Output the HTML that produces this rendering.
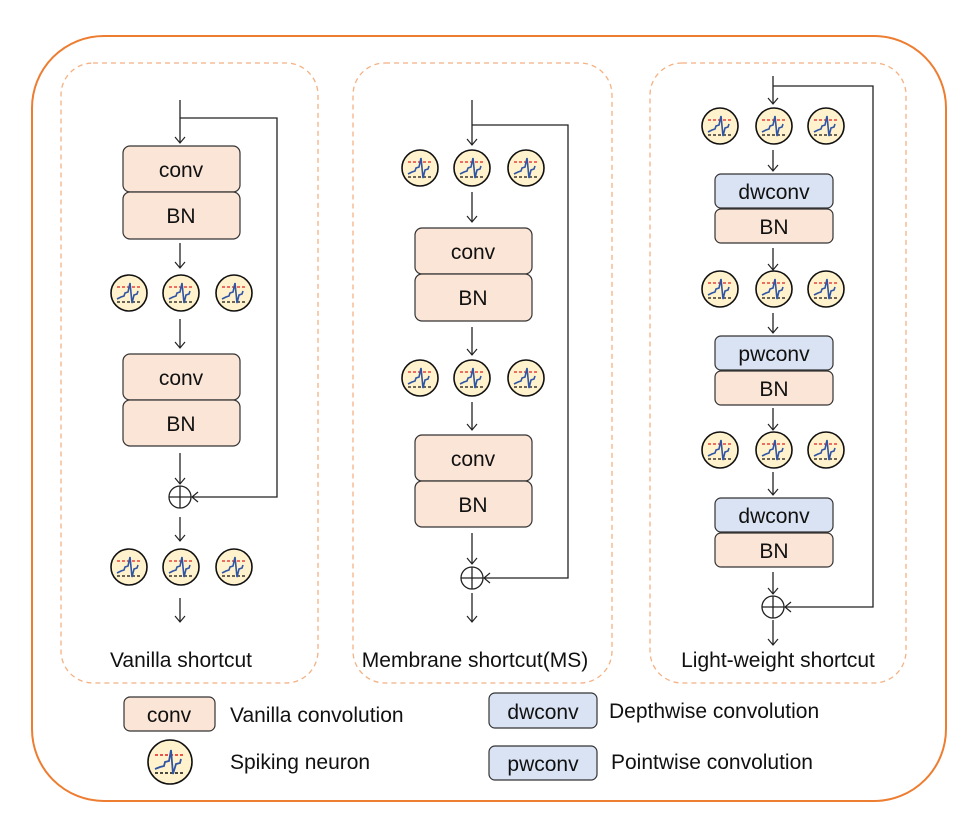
<!DOCTYPE html>
<html><head><meta charset="utf-8"><style>
html,body{margin:0;padding:0;background:#fff}
svg{display:block}
text{font-family:"Liberation Sans",sans-serif;fill:#111}
</style></head><body>
<svg width="972" height="837" viewBox="0 0 972 837" xmlns="http://www.w3.org/2000/svg">
<defs>
<marker id="ar" markerWidth="12" markerHeight="12" refX="10" refY="6" orient="auto" markerUnits="userSpaceOnUse">
<path d="M4,1 L10,6 L4,11" fill="none" stroke="#222" stroke-width="1.2"/>
</marker>
<g id="nr">
<circle cx="0" cy="0" r="18" fill="#FFF2CC" stroke="#111" stroke-width="1.6"/>
<line x1="-12" y1="-6" x2="12" y2="-6" stroke="#E02020" stroke-width="1.3" stroke-dasharray="3,2"/>
<line x1="-12" y1="9" x2="12" y2="9" stroke="#111" stroke-width="1.3" stroke-dasharray="3,2"/>
<path d="M-12,6 L-8,4 L-5,3 L-4,0 L-1,-1 L1,-10 L3,10 L5,2 L8,1 L9,-2" fill="none" stroke="#2F55A4" stroke-width="1.6"/>
</g>
<g id="nrL">
<circle cx="0" cy="0" r="22" fill="#FFF2CC" stroke="#111" stroke-width="1.6"/>
<line x1="-15" y1="-7" x2="15" y2="-7" stroke="#E02020" stroke-width="1.4" stroke-dasharray="3,2"/>
<line x1="-15" y1="11" x2="15" y2="11" stroke="#111" stroke-width="1.4" stroke-dasharray="3,2"/>
<path d="M-15,7 L-10,5 L-6,4 L-5,0 L-1,-1 L1,-12 L3,12 L6,2 L10,1 L11,-3" fill="none" stroke="#2F55A4" stroke-width="1.8"/>
</g>
<g id="plus">
<circle cx="0" cy="0" r="11" fill="#fff" stroke="#222" stroke-width="1.3"/>
<line x1="-11" y1="0" x2="11" y2="0" stroke="#222" stroke-width="1.3"/>
<line x1="0" y1="-11" x2="0" y2="11" stroke="#222" stroke-width="1.3"/>
</g>
</defs>

<rect x="32" y="36" width="914" height="765" rx="72" fill="none" stroke="#ED7D31" stroke-width="2"/>
<g fill="none" stroke="#F4B183" stroke-width="1.3" stroke-dasharray="5,4">
<rect x="61" y="63" width="257" height="620" rx="32"/>
<rect x="353" y="63" width="259" height="620" rx="32"/>
<rect x="650" y="63" width="256" height="620" rx="32"/>
</g>

<g stroke="#222" stroke-width="1.3" fill="none">
<line x1="180" y1="100" x2="180" y2="143" marker-end="url(#ar)"/>
<polyline points="180,118 277,118 277,497 192,497" marker-end="url(#ar)"/>
<line x1="180" y1="243" x2="180" y2="268" marker-end="url(#ar)"/>
<line x1="180" y1="319" x2="180" y2="348" marker-end="url(#ar)"/>
<line x1="180" y1="453" x2="180" y2="484" marker-end="url(#ar)"/>
<line x1="180" y1="517" x2="180" y2="541" marker-end="url(#ar)"/>
<line x1="180" y1="598" x2="180" y2="622" marker-end="url(#ar)"/>
<line x1="472" y1="100" x2="472" y2="145" marker-end="url(#ar)"/>
<polyline points="472,125 568,125 568,578 484,578" marker-end="url(#ar)"/>
<line x1="472" y1="192" x2="472" y2="222" marker-end="url(#ar)"/>
<line x1="472" y1="327" x2="472" y2="355" marker-end="url(#ar)"/>
<line x1="472" y1="402" x2="472" y2="430" marker-end="url(#ar)"/>
<line x1="472" y1="533" x2="472" y2="564" marker-end="url(#ar)"/>
<line x1="472" y1="593" x2="472" y2="622" marker-end="url(#ar)"/>
<line x1="773" y1="76" x2="773" y2="104" marker-end="url(#ar)"/>
<polyline points="773,86 873,86 873,607 785,607" marker-end="url(#ar)"/>
<line x1="773" y1="150" x2="773" y2="171" marker-end="url(#ar)"/>
<line x1="773" y1="248" x2="773" y2="270" marker-end="url(#ar)"/>
<line x1="773" y1="313" x2="773" y2="333" marker-end="url(#ar)"/>
<line x1="773" y1="408" x2="773" y2="430" marker-end="url(#ar)"/>
<line x1="773" y1="472" x2="773" y2="495" marker-end="url(#ar)"/>
<line x1="773" y1="572" x2="773" y2="594" marker-end="url(#ar)"/>
<line x1="773" y1="620" x2="773" y2="645" marker-end="url(#ar)"/>
</g>

<g stroke="#333" stroke-width="1.2">
<rect x="123" y="146" width="117" height="46" rx="7" fill="#FBE5D6"/>
<rect x="123" y="192" width="117" height="47" rx="7" fill="#FBE5D6"/>
<rect x="123" y="354" width="117" height="46" rx="7" fill="#FBE5D6"/>
<rect x="123" y="400" width="117" height="46" rx="7" fill="#FBE5D6"/>
<rect x="415" y="228" width="117" height="46" rx="7" fill="#FBE5D6"/>
<rect x="415" y="274" width="117" height="47" rx="7" fill="#FBE5D6"/>
<rect x="415" y="435" width="117" height="46" rx="7" fill="#FBE5D6"/>
<rect x="415" y="481" width="117" height="46" rx="7" fill="#FBE5D6"/>
<rect x="715" y="174" width="118" height="34" rx="6" fill="#DAE3F3"/>
<rect x="715" y="209" width="118" height="34" rx="6" fill="#FBE5D6"/>
<rect x="715" y="336" width="118" height="34" rx="6" fill="#DAE3F3"/>
<rect x="715" y="371" width="118" height="34" rx="6" fill="#FBE5D6"/>
<rect x="715" y="498" width="118" height="34" rx="6" fill="#DAE3F3"/>
<rect x="715" y="533" width="118" height="34" rx="6" fill="#FBE5D6"/>
<rect x="124" y="697" width="91" height="34" rx="6" fill="#FBE5D6"/>
<rect x="489" y="693" width="108" height="35" rx="6" fill="#DAE3F3"/>
<rect x="489" y="746" width="108" height="34" rx="6" fill="#DAE3F3"/>
</g>

<g font-size="21" text-anchor="middle">
<text x="181" y="177">conv</text><text x="181" y="223">BN</text>
<text x="181" y="385">conv</text><text x="181" y="431">BN</text>
<text x="473" y="259">conv</text><text x="473" y="305">BN</text>
<text x="473" y="466">conv</text><text x="473" y="512">BN</text>
<text x="774" y="199">dwconv</text><text x="774" y="234">BN</text>
<text x="774" y="361">pwconv</text><text x="774" y="396">BN</text>
<text x="774" y="523">dwconv</text><text x="774" y="558">BN</text>
<text x="169" y="722">conv</text>
<text x="543" y="719">dwconv</text>
<text x="543" y="771">pwconv</text>
<text x="181" y="667">Vanilla shortcut</text>
<text x="475" y="667">Membrane shortcut(MS)</text>
<text x="778" y="667">Light-weight shortcut</text>
</g>
<g font-size="21">
<text x="230" y="722">Vanilla convolution</text>
<text x="230" y="769">Spiking neuron</text>
<text x="609" y="718">Depthwise convolution</text>
<text x="611" y="769">Pointwise convolution</text>
</g>

<use href="#nr" x="129" y="293"/><use href="#nr" x="181" y="293"/><use href="#nr" x="234" y="293"/>
<use href="#nr" x="129" y="567"/><use href="#nr" x="181" y="567"/><use href="#nr" x="234" y="567"/>
<use href="#nr" x="420" y="168"/><use href="#nr" x="472" y="168"/><use href="#nr" x="526" y="168"/>
<use href="#nr" x="420" y="378"/><use href="#nr" x="472" y="378"/><use href="#nr" x="526" y="378"/>
<use href="#nr" x="720" y="126"/><use href="#nr" x="774" y="126"/><use href="#nr" x="826" y="126"/>
<use href="#nr" x="720" y="289"/><use href="#nr" x="774" y="289"/><use href="#nr" x="826" y="289"/>
<use href="#nr" x="720" y="450"/><use href="#nr" x="774" y="450"/><use href="#nr" x="826" y="450"/>
<use href="#nrL" x="170" y="762"/>
<use href="#plus" x="180" y="497"/>
<use href="#plus" x="472" y="578"/>
<use href="#plus" x="773" y="607"/>
</svg>
</body></html>
